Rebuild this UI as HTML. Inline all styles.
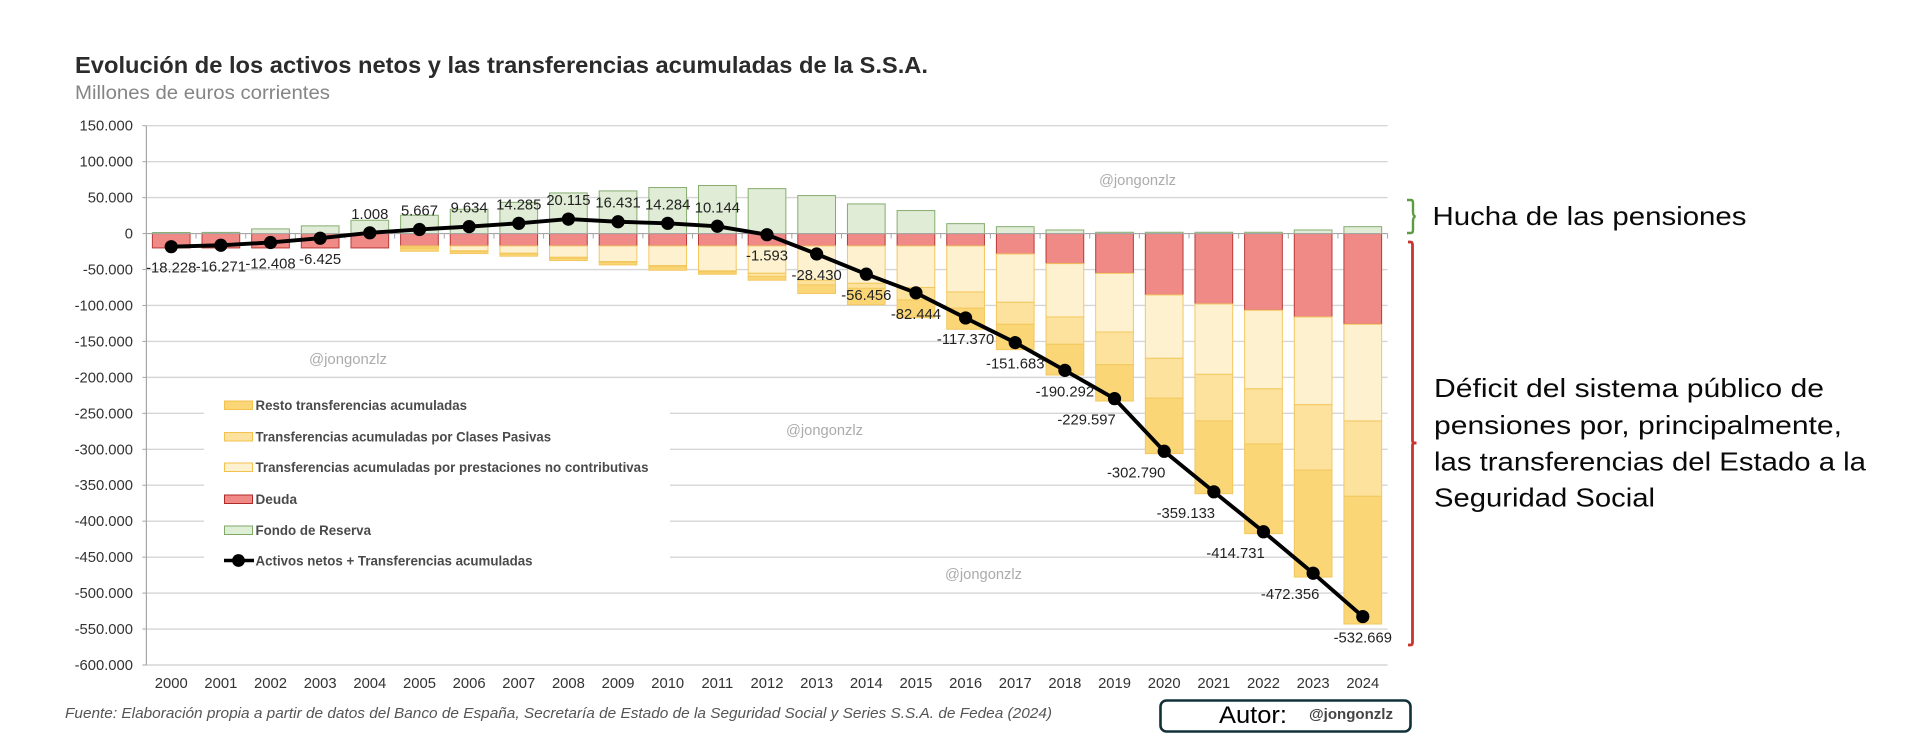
<!DOCTYPE html>
<html lang="es">
<head>
<meta charset="utf-8">
<title>Evolución de los activos netos y las transferencias acumuladas de la S.S.A.</title>
<style>
html,body{margin:0;padding:0;background:#fff;width:1905px;height:755px;overflow:hidden}
svg{display:block;font-family:"Liberation Sans",sans-serif}
</style>
</head>
<body>
<svg id="chart" xmlns="http://www.w3.org/2000/svg" width="1905" height="755" viewBox="0 0 1905 755">
  <rect x="0" y="0" width="1905" height="755" fill="#ffffff"/>
  <text x="75" y="73" font-size="23" font-weight="bold" fill="#2b2b2b" textLength="853" lengthAdjust="spacingAndGlyphs">Evolución de los activos netos y las transferencias acumuladas de la S.S.A.</text>
  <text x="75" y="99" font-size="19" fill="#858585" textLength="255" lengthAdjust="spacingAndGlyphs">Millones de euros corrientes</text>
  <g id="grid"></g>
  <g id="bars"></g>
  <g id="axes"></g>
  <g>
    <rect x="204" y="386" width="466" height="188" fill="#ffffff"/>
    <g>
      <rect x="224.5" y="401" width="28" height="8.5" fill="#fad677" stroke="#f2c14e"/>
      <text x="255.5" y="410" font-size="13.5" font-weight="bold" fill="#4a4a4a" textLength="211.5" lengthAdjust="spacingAndGlyphs">Resto transferencias acumuladas</text>
    </g>
    <g>
      <rect x="224.5" y="432.5" width="28" height="8.5" fill="#fce29d" stroke="#f2c14e"/>
      <text x="255.5" y="441.5" font-size="13.5" font-weight="bold" fill="#4a4a4a" textLength="295.5" lengthAdjust="spacingAndGlyphs">Transferencias acumuladas por Clases Pasivas</text>
    </g>
    <g>
      <rect x="224.5" y="463" width="28" height="8.5" fill="#fdf1d0" stroke="#f2c14e"/>
      <text x="255.5" y="472" font-size="13.5" font-weight="bold" fill="#4a4a4a" textLength="393" lengthAdjust="spacingAndGlyphs">Transferencias acumuladas por prestaciones no contributivas</text>
    </g>
    <g>
      <rect x="224.5" y="495" width="28" height="8.5" fill="#f08a87" stroke="#b02a2a"/>
      <text x="255.5" y="504" font-size="13.5" font-weight="bold" fill="#4a4a4a" textLength="41.5" lengthAdjust="spacingAndGlyphs">Deuda</text>
    </g>
    <g>
      <rect x="224.5" y="526" width="28" height="8.5" fill="#dfefd6" stroke="#7fa86a"/>
      <text x="255.5" y="535" font-size="13.5" font-weight="bold" fill="#4a4a4a" textLength="115.5" lengthAdjust="spacingAndGlyphs">Fondo de Reserva</text>
    </g>
    <g>
      <line x1="224" y1="560.5" x2="254" y2="560.5" stroke="#000" stroke-width="3.5"/>
      <circle cx="238.5" cy="560.5" r="6.4" fill="#000"/>
      <text x="255.5" y="565.5" font-size="13.5" font-weight="bold" fill="#4a4a4a" textLength="277" lengthAdjust="spacingAndGlyphs">Activos netos + Transferencias acumuladas</text>
    </g>
  </g>
  <g id="net-layer"></g>
  <g font-size="15" fill="#ababab">
    <text x="309" y="364" textLength="78" lengthAdjust="spacingAndGlyphs">@jongonzlz</text>
    <text x="1099" y="185" textLength="77" lengthAdjust="spacingAndGlyphs">@jongonzlz</text>
    <text x="786" y="435" textLength="77" lengthAdjust="spacingAndGlyphs">@jongonzlz</text>
    <text x="945" y="579" textLength="77" lengthAdjust="spacingAndGlyphs">@jongonzlz</text>
  </g>
  <text x="65" y="718" font-size="15" font-style="italic" fill="#555" textLength="987" lengthAdjust="spacingAndGlyphs">Fuente: Elaboración propia a partir de datos del Banco de España, Secretaría de Estado de la Seguridad Social y Series S.S.A. de Fedea (2024)</text>
  <g>
    <rect x="1160.5" y="700.5" width="250" height="31" rx="6" fill="#fff" stroke="#12303a" stroke-width="2.6"/>
    <text x="1219" y="723" font-size="24" fill="#000" textLength="68" lengthAdjust="spacingAndGlyphs">Autor:</text>
    <text x="1309" y="719" font-size="15" font-weight="bold" fill="#444" textLength="84" lengthAdjust="spacingAndGlyphs">@jongonzlz</text>
  </g>
  <path d="M1407 200 H1411 Q1413 200 1413 203 V212 Q1413 216 1415.5 216.5 Q1413 217 1413 221 V230 Q1413 233 1411 233 H1407" fill="none" stroke="#5f9a44" stroke-width="2.4"/>
  <text x="1432.5" y="225" font-size="26" fill="#0a0a0a" textLength="314" lengthAdjust="spacingAndGlyphs">Hucha de las pensiones</text>
  <path d="M1408 242 H1410.5 Q1412.5 242 1412.5 245 V441 Q1412.5 443 1416.5 443 Q1412.5 443 1412.5 445 V642 Q1412.5 645 1410.5 645 H1408" fill="none" stroke="#c8342e" stroke-width="2.8"/>
  <g font-size="26" fill="#0a0a0a">
    <text x="1434" y="397" textLength="390" lengthAdjust="spacingAndGlyphs">Déficit del sistema público de</text>
    <text x="1434" y="434" textLength="408" lengthAdjust="spacingAndGlyphs">pensiones por, principalmente,</text>
    <text x="1434" y="470.5" textLength="432" lengthAdjust="spacingAndGlyphs">las transferencias del Estado a la</text>
    <text x="1434" y="506.5" textLength="221" lengthAdjust="spacingAndGlyphs">Seguridad Social</text>
  </g>
</svg>
<script>
const years = [2000,2001,2002,2003,2004,2005,2006,2007,2008,2009,2010,2011,2012,2013,2014,2015,2016,2017,2018,2019,2020,2021,2022,2023,2024];
const yTicks = [150000,100000,50000,0,-50000,-100000,-150000,-200000,-250000,-300000,-350000,-400000,-450000,-500000,-550000,-600000];
const fondoReserva = [1400,1600,6500,10700,18500,25500,33800,43400,56500,59300,64000,66800,62500,52800,41200,32000,13800,9600,5000,1800,1800,1800,1800,5000,9600];
const deuda = [20000,20000,20000,20000,20000,17200,17200,17200,17200,17200,17200,17200,17200,17200,17200,17200,17200,28400,41800,55300,85400,97900,106700,116000,126200];
const noContributivas = [0,0,0,0,0,1500,6800,10200,15800,21800,27300,34700,38000,47700,52000,57800,64000,67200,74200,81600,88100,97900,109300,122000,134400];
const clasesPasivas = [0,0,0,0,0,1800,1000,900,1200,1000,1800,1400,4600,6500,7000,17300,22700,30600,38000,45500,55500,64800,76600,91000,104800];
const restoTransferencias = [0,0,0,0,0,4100,2800,3200,3300,3600,4700,3300,5100,12000,22700,24700,29200,35200,42700,50500,77000,101100,124700,148700,177600];
const activosNetos = [-18228,-16271,-12408,-6425,1008,5667,9634,14285,20115,16431,14284,10144,-1593,-28430,-56456,-82444,-117370,-151683,-190292,-229597,-302790,-359133,-414731,-472356,-532669];

const NS = 'http://www.w3.org/2000/svg';
const plotLeft = 146.4, plotRight = 1387.6, plotTop = 125.7, plotBottom = 665;
const yMax = 150000, yMin = -600000, barWidth = 37.7;
const xBand = (plotRight - plotLeft) / years.length;

function xScale(i) { return plotLeft + xBand * (i + 0.5); }
function yScale(v) { return plotTop + (yMax - v) / (yMax - yMin) * (plotBottom - plotTop); }
function fmt(v) {
  const s = String(Math.abs(v)).replace(/\B(?=(\d{3})+$)/g, '.');
  return (v < 0 ? '-' : '') + s;
}
function mk(tag, attrs, parent) {
  const el = document.createElementNS(NS, tag);
  for (const k in attrs) el.setAttribute(k, attrs[k]);
  parent.appendChild(el);
  return el;
}

const grid = document.getElementById('grid');
const axes = document.getElementById('axes');
const barsG = document.getElementById('bars');
const netG = document.getElementById('net-layer');

yTicks.forEach(function (t) {
  if (t !== 0) {
    const g = mk('line', {x1: plotLeft, x2: plotRight, y1: yScale(t), y2: yScale(t), stroke: '#d6d6d6', 'stroke-width': 1.4}, grid);
    
    
  }
  const tick = mk('line', {x1: plotLeft - 4, x2: plotLeft, y1: yScale(t), y2: yScale(t), stroke: '#a6a6a6', 'stroke-width': 1}, axes);
  
  
  const lab = mk('text', {x: 133, y: yScale(t) + 5, 'text-anchor': 'end', 'font-size': 14.8, fill: '#333'}, axes);
  
  
  lab.textContent = fmt(t);
});

const yAxis = mk('line', {x1: plotLeft, x2: plotLeft, y1: plotTop, y2: plotBottom, stroke: '#a6a6a6', 'stroke-width': 1.2}, axes);



function segment(i, from, to, fill, stroke, name) {
  if (from === to) return;
  const y0 = yScale(Math.max(from, to)), y1 = yScale(Math.min(from, to));
  const r = mk('rect', {x: xScale(i) - barWidth / 2, y: y0, width: barWidth, height: y1 - y0, fill: fill, stroke: stroke, 'stroke-width': 1}, barsG);
  
  
}

years.forEach(function (yr, i) {
  segment(i, 0, fondoReserva[i], '#e0ecd6', '#86ad70', 'bar-fondo-reserva');
  let c = -deuda[i];
  segment(i, 0, c, '#f08a87', '#b93a38', 'bar-deuda');
  const a = c - noContributivas[i];
  segment(i, c, a, '#fdf1d0', '#f3c85f', 'bar-no-contributivas');
  const b = a - clasesPasivas[i];
  segment(i, a, b, '#fce29d', '#f3c85f', 'bar-clases-pasivas');
  const d = b - restoTransferencias[i];
  segment(i, b, d, '#fad677', '#f3c85f', 'bar-resto-transferencias');
});

const zeroAxis = mk('line', {x1: plotLeft, x2: plotRight, y1: yScale(0), y2: yScale(0), stroke: '#a6a6a6', 'stroke-width': 1.2}, axes);



for (let i = 0; i <= years.length; i++) {
  const tx = plotLeft + xBand * i;
  const xt = mk('line', {x1: tx, x2: tx, y1: yScale(0), y2: yScale(0) + 5, stroke: '#a6a6a6', 'stroke-width': 1}, axes);
  
  
}

years.forEach(function (yr, i) {
  const lab = mk('text', {x: xScale(i), y: 688, 'text-anchor': 'middle', 'font-size': 14.8, fill: '#333'}, axes);
  
  
  lab.textContent = yr;
});

const netLine = mk('polyline', {
  points: activosNetos.map(function (v, i) { return xScale(i) + ',' + yScale(v); }).join(' '),
  fill: 'none', stroke: '#000', 'stroke-width': 3.9, 'stroke-linejoin': 'round'
}, netG);



function labelShift(i, v) {
  if (years[i] >= 2019 && years[i] <= 2023) return years[i] === 2023 ? -23 : -28;
  return 0;
}

activosNetos.forEach(function (v, i) {
  const dot = mk('circle', {cx: xScale(i), cy: yScale(v), r: 6.6, fill: '#000'}, netG);
  
  
  const lab = mk('text', {
    x: xScale(i) + labelShift(i, v),
    y: yScale(v) + (v >= 0 ? -14 : 26),
    'text-anchor': 'middle', 'font-size': 14.8, fill: '#222'
  }, netG);
  
  
  lab.textContent = fmt(v);
});
</script>
</body>
</html>
